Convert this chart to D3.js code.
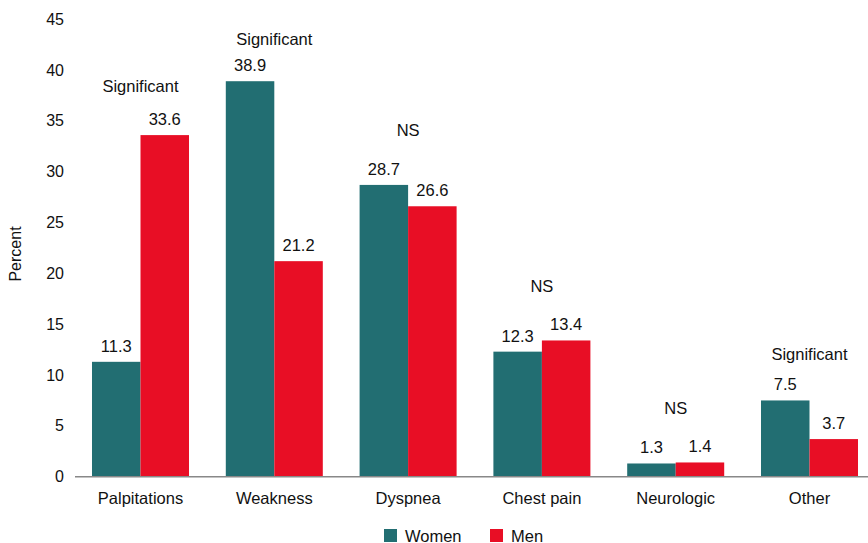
<!DOCTYPE html>
<html>
<head>
<meta charset="utf-8">
<script src="https://cdn.jsdelivr.net/npm/d3@7"></script>
<style>
  html, body { margin: 0; padding: 0; background: #fff; }
  svg { display: block; font-family: "Liberation Sans", Arial, Helvetica, sans-serif; }
</style>
</head>
<body>
<svg id="chart" width="868" height="543"></svg>
<script>
const categories = ["Palpitations", "Weakness", "Dyspnea", "Chest pain", "Neurologic", "Other"];
const seriesNames = ["Women", "Men"];
const women = [11.3, 38.9, 28.7, 12.3, 1.3, 7.5];
const men = [33.6, 21.2, 26.6, 13.4, 1.4, 3.7];
const annotations = ["Significant", "Significant", "NS", "NS", "NS", "Significant"];
const annotLevel = [38.4, 43.1, 34.1, 18.75, 6.75, 12.05];
const yTicks = [0, 5, 10, 15, 20, 25, 30, 35, 40, 45];

const colors = { Women: "#226E72", Men: "#E80E25" };
const svg = d3.select("#chart");
const fs = 16.5;

const y = d3.scaleLinear().domain([0, 45]).range([476.7, 19.2]);
const x0 = d3.scaleBand().domain(categories).range([73.6, 876.4]).paddingInner(0.275).paddingOuter(0.1375);
const x1 = d3.scaleBand().domain(seriesNames).range([0, x0.bandwidth()]);

const data = categories.map((c, i) => ({ cat: c, values: [{ s: "Women", v: women[i] }, { s: "Men", v: men[i] }], ann: annotations[i], lvl: annotLevel[i] }));

// y tick labels
svg.append("g").selectAll("text").data(yTicks).join("text")
  .attr("x", 64).attr("y", d => y(d) + 5.5)
  .attr("text-anchor", "end").attr("font-size", 16).attr("fill", "#111")
  .text(d => d);

// y title
svg.append("text")
  .attr("transform", "translate(21,254) rotate(-90)")
  .attr("text-anchor", "middle").attr("font-size", 16).attr("fill", "#111")
  .text("Percent");

// bars
const groups = svg.append("g").selectAll("g").data(data).join("g")
  .attr("transform", d => `translate(${x0(d.cat)},0)`);

groups.selectAll("rect").data(d => d.values).join("rect")
  .attr("x", d => x1(d.s)).attr("width", x1.bandwidth())
  .attr("y", d => y(d.v)).attr("height", d => y(0) - y(d.v))
  .attr("fill", d => colors[d.s]);

groups.selectAll("text.val").data(d => d.values).join("text")
  .attr("class", "val")
  .attr("x", d => x1(d.s) + x1.bandwidth() / 2)
  .attr("y", d => y(d.v) - 10)
  .attr("text-anchor", "middle").attr("font-size", fs).attr("fill", "#111")
  .text(d => d.v.toFixed(1));

groups.append("text")
  .attr("x", x0.bandwidth() / 2)
  .attr("y", d => y(d.lvl) + 6)
  .attr("text-anchor", "middle").attr("font-size", fs).attr("fill", "#111")
  .text(d => d.ann);

// x axis line
svg.append("line")
  .attr("x1", 75).attr("x2", 868).attr("y1", y(0)).attr("y2", y(0))
  .attr("stroke", "#888").attr("stroke-width", 1.5);

// x labels
svg.append("g").selectAll("text").data(categories).join("text")
  .attr("x", d => x0(d) + x0.bandwidth() / 2)
  .attr("y", 504)
  .attr("text-anchor", "middle").attr("font-size", fs).attr("fill", "#111")
  .text(d => d);

// legend
const legendX = [384, 490];
const legend = svg.append("g").selectAll("g").data(seriesNames).join("g")
  .attr("transform", (d, i) => `translate(${legendX[i]},529)`);
legend.append("rect").attr("width", 13).attr("height", 13).attr("fill", d => colors[d]);
legend.append("text").attr("x", 21).attr("y", 12.5)
  .attr("font-size", fs).attr("fill", "#111").text(d => d);
</script>
</body>
</html>
